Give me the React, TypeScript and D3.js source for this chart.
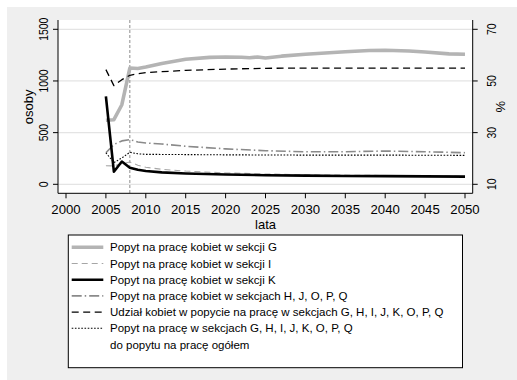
import React from "react";
import * as d3 from "d3";

// ---- data ----
const yearsG = [2005, 2006, 2007, 2008, 2009, 2010, 2012, 2015, 2018, 2020, 2022, 2023, 2024, 2025, 2027, 2030, 2035, 2038, 2040, 2043, 2045, 2048, 2050];
const valuesG = [620, 625, 770, 1125, 1120, 1135, 1170, 1210, 1228, 1232, 1230, 1225, 1232, 1222, 1240, 1258, 1282, 1295, 1297, 1290, 1280, 1262, 1258];

const yearsI = [2005, 2006, 2007, 2008, 2009, 2010, 2012, 2015, 2020, 2025, 2030, 2040, 2050];
const valuesI = [180, 178, 200, 215, 185, 165, 145, 128, 110, 100, 92, 85, 78];

const yearsK = [2005, 2006, 2007, 2008, 2009, 2010, 2012, 2015, 2020, 2025, 2030, 2035, 2040, 2045, 2050];
const valuesK = [850, 122, 220, 160, 140, 128, 115, 105, 95, 88, 84, 80, 79, 77, 74];

const yearsH = [2005, 2006, 2007, 2008, 2009, 2010, 2012, 2015, 2020, 2025, 2030, 2035, 2040, 2045, 2050];
const valuesH = [305, 385, 420, 433, 410, 400, 390, 368, 343, 325, 315, 315, 322, 315, 306];

const yearsShare = [2005, 2006, 2007, 2008, 2009, 2010, 2012, 2015, 2020, 2025, 2030, 2040, 2050];
const valuesShare = [54.4, 48.2, 50.5, 52.2, 52.8, 53.2, 53.6, 54.1, 54.6, 54.9, 55.0, 55.0, 55.0];

const yearsRatio = [2005, 2006, 2007, 2008, 2009, 2010, 2015, 2020, 2030, 2040, 2050];
const valuesRatio = [22.2, 18.4, 20.2, 22.4, 21.8, 21.6, 21.5, 21.4, 21.3, 21.3, 21.2];

const xTicks = [2000, 2005, 2010, 2015, 2020, 2025, 2030, 2035, 2040, 2045, 2050];
const yLeftTicks = [0, 500, 1000, 1500];
const yRightTicks = [10, 30, 50, 70];
const markerYear = 2008;

const legendLabels = [
  "Popyt na pracę kobiet w sekcji G",
  "Popyt na pracę kobiet w sekcji I",
  "Popyt na pracę kobiet w sekcji K",
  "Popyt na pracę kobiet w sekcjach H, J, O, P, Q",
  "Udział kobiet w popycie na pracę w sekcjach G, H, I, J, K, O, P, Q",
  "Popyt na pracę w sekcjach G, H, I, J, K, O, P, Q",
];
const legendExtra = "do popytu na pracę ogółem";

// ---- styles ----
const styles = [
  { stroke: "#b4b4b4", width: 3.6, dash: "" },
  { stroke: "#a6a6a6", width: 1.1, dash: "6,4" },
  { stroke: "#000000", width: 2.6, dash: "" },
  { stroke: "#8a8a8a", width: 1.6, dash: "10,3,1.5,3" },
  { stroke: "#000000", width: 1.3, dash: "7,4.5" },
  { stroke: "#000000", width: 1.1, dash: "1.6,1.6" },
];

const FONT = "'Liberation Sans', Arial, Helvetica, sans-serif";

export default function App() {
  const plot = { left: 58, right: 472.7, top: 20, bottom: 193.3 };
  const x = d3.scaleLinear().domain([2000, 2050]).range([66, 465]);
  const yL = d3.scaleLinear().domain([0, 1500]).range([184.3, 29.3]);
  const yR = d3.scaleLinear().domain([10, 70]).range([184.3, 29.3]);

  const mk = (ys: number[], vs: number[], sc: d3.ScaleLinear<number, number>) =>
    d3
      .line<number>()
      .x((_, i) => x(ys[i]))
      .y((v) => sc(v))(vs) || "";

  const series = [
    mk(yearsG, valuesG, yL),
    mk(yearsI, valuesI, yL),
    mk(yearsK, valuesK, yL),
    mk(yearsH, valuesH, yL),
    mk(yearsShare, valuesShare, yR),
    mk(yearsRatio, valuesRatio, yR),
  ];
  // drawing order
  const order = [0, 3, 5, 4, 1, 2];

  const leg = { x0: 68.3, x1: 462.5, y0: 235, y1: 367.7, row0: 247.3, step: 16.2 };
  const compress = 0.8;

  return (
    <svg
      width={517}
      height={380}
      style={{ position: "absolute", left: 0, top: 0 }}
      fontFamily={FONT}
    >
      <rect x={0} y={0} width={517} height={380} fill="#ffffff" />
      <rect x={7} y={7} width={510} height={373} fill="#efefef" />
      <rect
        x={plot.left}
        y={plot.top}
        width={plot.right - plot.left}
        height={plot.bottom - plot.top}
        fill="#ffffff"
      />
      {/* gridlines */}
      {yLeftTicks.map((t) => (
        <line
          key={"g" + t}
          x1={plot.left}
          x2={plot.right}
          y1={yL(t)}
          y2={yL(t)}
          stroke="#e4e4e4"
          strokeWidth={1.2}
        />
      ))}
      {/* marker line */}
      <line
        x1={x(markerYear)}
        x2={x(markerYear)}
        y1={plot.top}
        y2={plot.bottom}
        stroke="#8c8c8c"
        strokeWidth={1}
        strokeDasharray="3,2"
      />
      {/* series */}
      {order.map((i) => (
        <path
          key={"s" + i}
          d={series[i]}
          fill="none"
          stroke={styles[i].stroke}
          strokeWidth={styles[i].width}
          strokeDasharray={styles[i].dash || undefined}
          strokeLinejoin="round"
        />
      ))}
      {/* axes */}
      <line x1={plot.left} x2={plot.left} y1={plot.top} y2={plot.bottom} stroke="#000" strokeWidth={1} />
      <line x1={plot.right} x2={plot.right} y1={plot.top} y2={plot.bottom} stroke="#000" strokeWidth={1} />
      <line x1={plot.left} x2={plot.right} y1={plot.bottom} y2={plot.bottom} stroke="#000" strokeWidth={1} />
      {xTicks.map((t) => (
        <g key={"x" + t}>
          <line x1={x(t)} x2={x(t)} y1={plot.bottom} y2={plot.bottom + 5} stroke="#000" />
          <text x={x(t)} y={213.8} fontSize={13.2} textAnchor="middle" fill="#000">
            {t}
          </text>
        </g>
      ))}
      <text x={x(2025)} y={228.6} fontSize={13} textAnchor="middle" fill="#000">
        lata
      </text>
      {yLeftTicks.map((t) => (
        <g key={"yl" + t}>
          <line x1={plot.left - 5} x2={plot.left} y1={yL(t)} y2={yL(t)} stroke="#000" />
          <text
            transform={`translate(48.3,${yL(t)}) rotate(-90) scale(${compress},1)`}
            fontSize={13}
            textAnchor="middle"
            fill="#000"
          >
            {t}
          </text>
        </g>
      ))}
      <text
        transform={`translate(32.5,${(yL(0) + yL(1500)) / 2}) rotate(-90)`}
        fontSize={13}
        textAnchor="middle"
        fill="#000"
      >
        osoby
      </text>
      {yRightTicks.map((t) => (
        <g key={"yr" + t}>
          <line x1={plot.right} x2={plot.right + 5} y1={yR(t)} y2={yR(t)} stroke="#000" />
          <text
            transform={`translate(495.5,${yR(t)}) rotate(-90) scale(${compress},1)`}
            fontSize={13}
            textAnchor="middle"
            fill="#000"
          >
            {t}
          </text>
        </g>
      ))}
      <text
        transform={`translate(504.5,${(yR(10) + yR(70)) / 2}) rotate(-90)`}
        fontSize={13}
        textAnchor="middle"
        fill="#000"
      >
        %
      </text>
      {/* legend */}
      <rect
        x={leg.x0}
        y={leg.y0}
        width={leg.x1 - leg.x0}
        height={leg.y1 - leg.y0}
        fill="#ffffff"
        stroke="#000"
        strokeWidth={1}
      />
      {legendLabels.map((lab, i) => {
        const yy = leg.row0 + i * leg.step;
        return (
          <g key={"l" + i}>
            <line
              x1={71.7}
              x2={103.3}
              y1={yy}
              y2={yy}
              stroke={styles[i].stroke}
              strokeWidth={styles[i].width}
              strokeDasharray={styles[i].dash || undefined}
            />
            <text x={110} y={yy + 4} fontSize={11.5} fill="#000">
              {lab}
            </text>
          </g>
        );
      })}
      <text x={110} y={leg.row0 + 6 * leg.step + 4} fontSize={11.5} fill="#000">
        {legendExtra}
      </text>
    </svg>
  );
}
